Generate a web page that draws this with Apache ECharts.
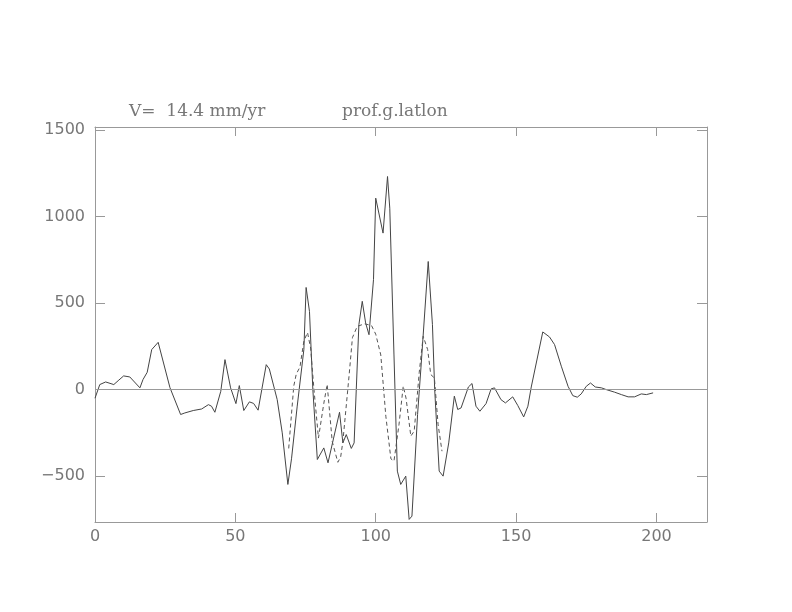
<!DOCTYPE html>
<html>
<head>
<meta charset="utf-8">
<script src="https://cdn.jsdelivr.net/npm/echarts@6/dist/echarts.min.js"></script>
<style>html,body{margin:0;padding:0;background:#fff;}#c{width:792px;height:612px;}</style>
</head>
<body>
<div id="c"></div>
<script>
// Solid profile: [distance, value]
var solidSeries = [[0,-50],[1.7,29],[3.8,44],[6.7,29],[8.5,55],[10.2,79],[12.4,73],[16,10],[17.1,58],[18.6,100],[20.2,231],[22.5,273],[26.7,11],[30.5,-144],[32,-135],[35,-121],[38,-112],[38.6,-121],[40.4,-87],[41.5,-96],[42.7,-131],[44.8,-10],[46.3,173],[48.3,10],[50.2,-81],[51.4,23],[53,-121],[55,-71],[56.5,-80],[58.1,-119],[61,144],[62.1,119],[64.9,-58],[66.7,-250],[68.7,-548],[70,-400],[72,-100],[74.4,231],[75.2,590],[76.4,452],[77.6,0],[79.2,-404],[81.5,-337],[83,-423],[85,-280],[87.1,-131],[88.3,-308],[89.5,-260],[91.3,-340],[92.3,-308],[94,375],[95.2,510],[96.4,385],[97.6,317],[99.2,635],[100,1106],[102.6,904],[104.2,1231],[105,1048],[106.5,200],[107.7,-471],[108.9,-548],[110.7,-500],[111.9,-750],[112.9,-731],[114.9,-144],[116.1,125],[118.7,740],[120.2,375],[121,0],[122.6,-471],[124,-500],[126,-308],[128,-38],[129.2,-115],[130.4,-106],[133,15],[134.3,35],[135.7,-96],[137.1,-125],[139.3,-81],[141.1,4],[142.3,10],[144.6,-58],[146.2,-77],[148.8,-42],[150.6,-92],[152.7,-158],[154.2,-96],[155.4,15],[159.5,333],[161.9,304],[163.7,260],[166.1,135],[168.5,19],[170.2,-35],[171.8,-44],[173.2,-25],[175,19],[176.5,38],[178.2,15],[180.4,10],[182.1,0],[185.1,-15],[187.5,-29],[189.9,-42],[192.2,-42],[194.6,-25],[196.4,-29],[198.8,-19]];
// Dashed profile
var dashedSeries = [[69,-340],[70.8,20],[71.7,90],[73,130],[74.4,280],[75.7,330],[76.8,240],[78,0],[79.6,-280],[81.5,-80],[82.7,30],[84.5,-300],[86.5,-420],[87.5,-390],[88.3,-300],[90.5,80],[91.7,300],[93.4,365],[96,380],[98.5,370],[100,320],[101.8,200],[103.6,-154],[105.4,-400],[106.5,-413],[108.3,-200],[109.8,20],[110.8,-50],[112.5,-269],[113.7,-240],[115.5,100],[116.9,308],[118.5,231],[119.6,87],[120.9,67],[122.2,-200],[123.6,-356]];
var xTicks = [0,50,100,150,200];
var yTicks = [-500,0,500,1000,1500];
var titleLeft = 'V=  14.4 mm/yr';
var titleRight = 'prof.g.latlon';

var FONT = 'DejaVu Sans';
var TFONT = 'DejaVu Serif';
var LBL = '#777';
var AX = '#999';
var chart = echarts.init(document.getElementById('c'), null, {renderer:'canvas'});
function xa(pos, showLabel){
  return {type:'value', position:pos, min:0, max:218,
    axisLine:{show:true, onZero:false, lineStyle:{color:AX, width:1}},
    axisTick:{show:true, inside:true, length:9, customValues:xTicks, lineStyle:{color:AX}},
    axisLabel:{show:showLabel, customValues:xTicks, color:LBL, fontFamily:FONT, fontSize:16, margin:7},
    splitLine:{show:false}};
}
function ya(pos, showLabel){
  return {type:'value', position:pos, min:-765, max:1517,
    axisLine:{show:true, onZero:false, lineStyle:{color:AX, width:1}},
    axisTick:{show:true, inside:true, length:10, customValues:yTicks, lineStyle:{color:AX}},
    axisLabel:{show:showLabel, customValues:yTicks, color:LBL, fontFamily:FONT, fontSize:16, margin:10,
      formatter:function(v){return v<0 ? '\u2212'+Math.abs(v) : String(v);}},
    splitLine:{show:false}};
}
chart.setOption({
  animation:false,
  backgroundColor:'#fff',
  grid:{left:95, right:85, top:127, bottom:90, show:false},
  title:[
    {text:titleLeft, left:124, top:98, textStyle:{color:LBL, fontFamily:TFONT, fontSize:17, fontWeight:'normal'}},
    {text:titleRight, left:337, top:98, textStyle:{color:LBL, fontFamily:TFONT, fontSize:17, fontWeight:'normal'}}
  ],
  xAxis:[xa('bottom', true), xa('top', false)],
  yAxis:[ya('left', true), ya('right', false)],
  series:[
    {type:'line', data:solidSeries, showSymbol:false, symbol:'none', lineStyle:{color:'#444', width:1},
      markLine:{silent:true, symbol:'none', label:{show:false}, lineStyle:{color:'#999', type:'solid', width:1},
        data:[{yAxis:0}]}},
    {type:'line', data:dashedSeries, showSymbol:false, symbol:'none', lineStyle:{color:'#555', width:1, type:[4,3]}}
  ]
});
</script>
</body>
</html>
